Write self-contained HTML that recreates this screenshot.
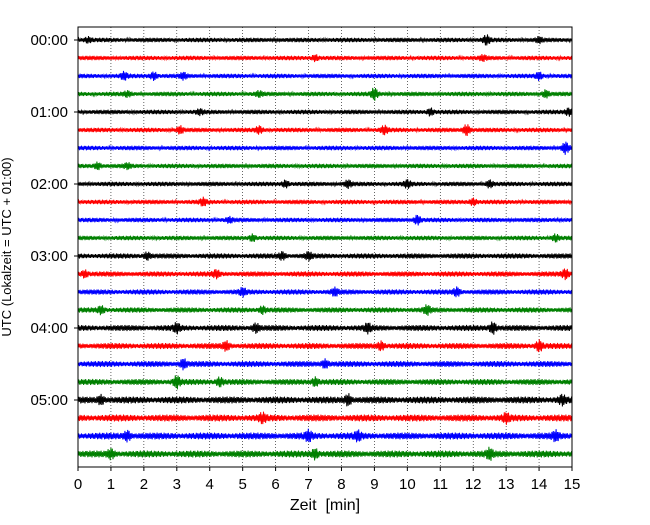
<!DOCTYPE html>
<html><head><meta charset="utf-8"><style>
body{margin:0;background:#fff;}
svg text{font-family:"Liberation Sans",sans-serif;}
</style></head><body>
<svg id="chart" width="650" height="520" xmlns="http://www.w3.org/2000/svg">
<rect x="0" y="0" width="650" height="520" fill="#fff"/>
<g id="grid"></g>
<g id="traces"></g>
<rect x="78" y="27" width="494" height="440" fill="none" stroke="#000" stroke-width="1"/>
<g id="xaxis"></g>
<g id="yaxis"></g>
<text x="325" y="510" font-size="16" text-anchor="middle" xml:space="preserve" style="white-space:pre">Zeit  [min]</text>
<text transform="translate(11,247) rotate(-90)" font-size="13" text-anchor="middle">UTC (Lokalzeit = UTC + 01:00)</text>
</svg>
<script>
const xTicks=[0,1,2,3,4,5,6,7,8,9,10,11,12,13,14,15];
const yTickLabels=["00:00","01:00","02:00","03:00","04:00","05:00"];
const traceColors=["#000000","#ff0000","#0000ff","#008000"];
const baseAmp=[2,2,2,2,2,2,2,2,2,2,2,2,2.3,2.3,2.3,2.3,2.6,2.6,2.6,2.6,3,3,3,3];
const bursts=[
 [[12.4,4],[14,2],[0.3,2]],[[7.2,2.5],[12.3,2]],[[1.4,3],[2.3,3.5],[3.2,2.5],[14,3]],[[1.5,2],[9,5],[14.2,3],[5.5,2]],
 [[10.7,3],[14.9,3],[3.7,2]],[[3.1,3],[5.5,3],[9.3,3.5],[11.8,5]],[[14.8,5]],[[0.6,3],[1.5,2]],
 [[6.3,3],[8.2,3],[10,3],[12.5,3]],[[3.8,3],[12,3]],[[4.6,2],[10.3,4]],[[5.3,3],[14.5,3]],
 [[2.1,3],[6.2,3],[7,3]],[[0.2,3],[4.2,3],[14.8,4]],[[5,3],[7.8,3],[11.5,3.5]],[[0.7,3],[5.6,3],[10.6,3.5]],
 [[3,3.5],[5.4,3.5],[8.8,3.5],[12.6,5]],[[4.5,3.5],[9.2,3.5],[14,4.5]],[[3.2,4],[7.5,3.5]],[[3,5],[4.3,3.5],[7.2,3.5]],
 [[0.7,3.5],[8.2,4.5],[14.7,3.5]],[[5.6,3.5],[13,3.5]],[[1.5,4],[7,4],[8.5,3.5],[14.5,3.5]],[[1,3.5],[7.2,4],[12.5,4]]
];
const NS="http://www.w3.org/2000/svg";
const x0=78,x1=572,y0=40,dy=18,maxMin=15;
const xs=m=>x0+(m/maxMin)*(x1-x0);
const ys=i=>y0+i*dy;
const grid=document.getElementById('grid'),tr=document.getElementById('traces'),xa=document.getElementById('xaxis'),ya=document.getElementById('yaxis');
function mk(t,a,p){const e=document.createElementNS(NS,t);for(const k in a)e.setAttribute(k,a[k]);p.appendChild(e);return e;}
xTicks.forEach(t=>{
 if(t>0&&t<15){const l=mk('line',{x1:xs(t),x2:xs(t),y1:27,y2:467,stroke:'#000','stroke-width':0.6,'stroke-dasharray':'1,2'},grid);
 }
 const k=mk('line',{x1:xs(t),x2:xs(t),y1:467,y2:471,stroke:'#000'},xa);
 
 const tx=mk('text',{x:xs(t),y:489,'font-size':15,'text-anchor':'middle'},xa);tx.textContent=t;
 
});
yTickLabels.forEach((s,i)=>{
 const y=ys(i*4);
 const k=mk('line',{x1:74,x2:78,y1:y,y2:y,stroke:'#000'},ya);
 
 const tx=mk('text',{x:68,y:y+5,'font-size':15,'text-anchor':'end'},ya);tx.textContent=s;
 
});
baseAmp.forEach((b,i)=>{
 const yc=ys(i);let pts=[];
 for(let px=x0;px<=x1;px+=0.7){
  const m=(px-x0)/(x1-x0)*maxMin;let a=b*(0.8+0.35*Math.abs(Math.sin(m*2.1+i*0.7)));
  bursts[i].forEach(([c,h])=>{const d=(m-c)/0.1;a+=h*Math.exp(-d*d);});
  const f=0.5+0.5*Math.abs(Math.sin(px*1.37+i));
  const s=(Math.round(px/0.7)%2?1:-1);
  pts.push(px.toFixed(1)+','+(yc+s*a*f).toFixed(1));
 }
 const p=mk('polyline',{points:pts.join(' '),fill:'none',stroke:traceColors[i%4],'stroke-width':1},tr);
 
});
</script>
</body></html>
